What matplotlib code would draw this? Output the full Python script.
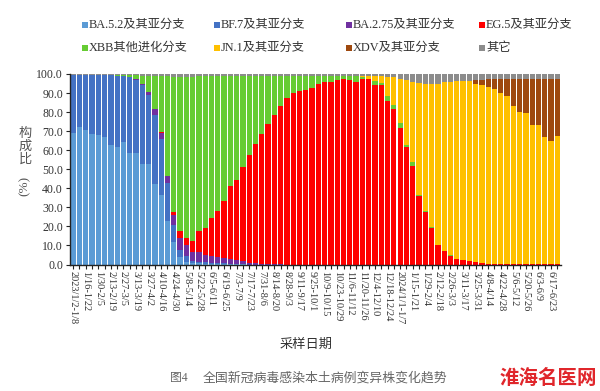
import numpy as np
import matplotlib
matplotlib.use("Agg")
import matplotlib.pyplot as plt
from matplotlib.patches import Rectangle

plt.rcParams['font.family'] = ['Liberation Serif', 'Noto Sans CJK SC', 'DejaVu Sans']

# ---------------- data ----------------
series_names = ["BA.5.2及其亚分支", "BF.7及其亚分支", "BA.2.75及其亚分支", "EG.5及其亚分支",
                "XBB其他进化分支", "JN.1及其亚分支", "XDV及其亚分支", "其它"]
colors = ["#5B9BD5", "#4472C4", "#7030A0", "#FF0000",
          "#66CC33", "#FFC000", "#9E480E", "#8C8C8C"]

ba52 = [69.0, 72.0, 70.5, 68.5, 68.0, 67.0, 62.5, 61.5, 64.5, 58.5,
        58.5, 52.5, 52.5, 42.5, 36.5, 23.0, 12.0, 3.7, 1.5, 0.8,
        0.6, 0.5, 0.4, 0.3, 0.3, 0.2, 0.2, 0.1] + [0] * 50
bf7 = [30.5, 27.5, 29.0, 31.0, 31.5, 32.5, 36.8, 37.5, 34.3, 39.8,
       38.5, 41.8, 36.3, 36.1, 29.3, 19.6, 8.7, 3.7, 3.1, 1.2,
       0.8, 0.6, 0.5, 0.4, 0.3, 0.2, 0.2, 0.1] + [0] * 50
ba275 = [0, 0, 0, 0, 0, 0, 0, 0, 0.2, 0.2,
         0.3, 0.5, 1.7, 3.1, 3.4, 3.6, 5.3, 6.3, 5.6, 4.8,
         5.1, 3.9, 3.7, 3.3, 2.9, 2.5, 2.0, 1.5, 1.0, 0.7,
         0.5, 0.3, 0.2, 0.1] + [0] * 44
eg5 = [0, 0, 0, 0, 0, 0, 0, 0, 0, 0,
       0, 0, 0, 0.1, 0.3, 0.5, 1.7, 3.7, 3.8, 5.5,
       10.9, 14.0, 19.6, 24.2, 29.9, 38.1, 41.8, 49.3, 56.3, 62.6,
       68.2, 73.5, 78.5, 83.0, 87.2, 89.8, 91.0, 91.6, 92.8, 94.9,
       95.6, 95.8, 96.7, 97.5, 96.7, 95.6, 97.2, 97.2, 94.2, 94.2,
       85.8, 81.4, 71.7, 61.5, 51.5, 35.8, 27.5, 19.2, 10.1, 7.0,
       4.7, 3.0, 2.5, 1.8, 1.2, 0.8, 0.5, 0.4, 0.3, 0.3,
       0.2, 0.2, 0.2, 0.1, 0.1, 0.1, 0.1, 0.1]
xbb = [0, 0, 0, 0, 0, 0, 0.2, 0.5, 0.5, 1.0,
       2.0, 4.2, 8.5, 17.0, 29.3, 52.0, 70.8, 81.1, 84.5, 86.2,
       81.3, 79.8, 74.6, 70.8, 65.6, 58.0, 54.8, 48.0, 41.7, 35.7,
       30.3, 25.2, 20.3, 15.9, 11.8, 9.2, 8.0, 7.4, 6.2, 4.1,
       3.4, 3.2, 2.3, 1.5, 2.3, 3.2, 1.3, 0.3, 2.0, 1.2,
       2.5, 2.3, 2.6, 1.4, 2.1, 0.5, 0.4, 0.3, 0.2, 0.2,
       0.1, 0.1, 0.1, 0.1] + [0] * 14
jn1 = [0] * 46 + [0.5, 1.5, 2.8, 3.4,
                  10.2, 14.8, 23.2, 34.1, 42.4, 59.2, 66.6, 75.0, 84.7, 88.8,
                  91.2, 93.4, 93.9, 94.6, 93.8, 93.2, 92.6, 91.6, 89.7, 87.9,
                  82.8, 80.1, 79.2, 73.2, 73.2, 66.7, 64.9, 67.4]
xdv = [0] * 64 + [2.0, 3.0, 4.4, 5.5, 7.5, 9.3, 14.5, 17.2, 18.1, 24.2,
                  24.2, 30.7, 32.5, 30.0]
other = ([0.5] * 10 +
         [0.7, 1.0, 1.0, 1.2, 1.2, 1.3, 1.5, 1.5, 1.5, 1.5,
          1.3, 1.2, 1.2] +
         [1.0] * 22 +
         [1.2, 1.0, 1.0, 1.0, 1.2, 1.5, 1.5, 2.5, 3.0, 4.0,
          4.5, 5.5, 5.5, 5.0, 4.0, 4.0, 3.5, 3.5, 3.5, 3.0, 3.0] +
         [2.5] * 12)

week_labels = ["2023/1/2-1/8", "1/16-1/22", "1/30-2/5", "2/13-2/19", "2/27-3/5",
               "3/13-3/19", "3/27-4/2", "4/10-4/16", "4/24-4/30", "5/8-5/14",
               "5/22-5/28", "6/5-6/11", "6/19-6/25", "7/3-7/9", "7/17-7/23",
               "7/31-8/6", "8/14-8/20", "8/28-9/3", "9/11-9/17", "9/25-10/1",
               "10/9-10/15", "10/23-10/29", "11/6-11/12", "11/20-11/26", "12/4-12/10",
               "12/18-12/24", "2024/1/1-1/7", "1/15-1/21", "1/29-2/4", "2/12-2/18",
               "2/26-3/3", "3/11-3/17", "3/25-3/31", "4/8-4/14", "4/22-4/28",
               "5/6-5/12", "5/20-5/26", "6/3-6/9", "6/17-6/23"]

series = [ba52, bf7, ba275, eg5, xbb, jn1, xdv, other]

# ---------------- figure ----------------
W, H = 600, 391
fig = plt.figure(figsize=(W / 100, H / 100), dpi=100)
ax = fig.add_axes([70 / W, 1 - 264.5 / H, 490.5 / W, 190.5 / H])

n = len(ba52)
x = np.arange(n)
bottom = np.zeros(n)
for vals, c in zip(series, colors):
    v = np.array(vals, dtype=float)
    ax.bar(x, v, bottom=bottom, width=0.84, color=c, linewidth=0)
    bottom += v

ax.set_xlim(-0.5, n - 0.5)
ax.set_ylim(0, 100)
ax.set_yticks(np.arange(0, 101, 10))
ax.set_yticklabels([f"{v:.1f}" for v in np.arange(0, 101, 10)], fontsize=8.5, color="#333333")

ax.set_xticks(np.arange(0, n, 2)[:len(week_labels)])
ax.set_xticklabels(week_labels, rotation=-90, fontsize=7.5, color="#333333",
                   ha="center", va="top")
ax.set_xticks(np.arange(1, n, 2), minor=True)
ax.tick_params(axis="x", which="both", length=3, width=0.8, direction="out",
               color="#222222", pad=2)
ax.tick_params(axis="y", length=3, width=0.8, direction="out", color="#222222", pad=2)

for s in ["top", "right"]:
    ax.spines[s].set_visible(False)
for s in ["left", "bottom"]:
    ax.spines[s].set_color("#222222")
    ax.spines[s].set_linewidth(1.0)

# y label (vertical stacked characters)
fig.text(25 / W, 1 - 147 / H, "构\n成\n比", ha="center", va="center",
         fontsize=9.5, color="#555555", linespacing=1.05)
fig.text(25 / W, 1 - 186 / H, "(%)", ha="center", va="center",
         fontsize=9.5, color="#555555", rotation=90)

# x label and caption
fig.text(306 / W, 1 - 345 / H, "采样日期", ha="center", va="center",
         fontsize=9.5, color="#333333")
fig.text(170 / W, 1 - 378 / H, "图4", ha="left", va="center",
         fontsize=8.5, color="#666666")
fig.text(203 / W, 1 - 378 / H, "全国新冠病毒感染本土病例变异株变化趋势",
         ha="left", va="center", fontsize=9.3, color="#666666")
fig.text(548 / W, 1 - 378 / H, "淮海名医网", ha="center", va="center",
         fontsize=14, color="#E0262B", fontweight="bold", style="italic")

# legend (manual, 2 rows x 4 cols)
leg_x = [85, 217, 349, 482]
leg_y = [25, 48]
for i, (name, c) in enumerate(zip(series_names, colors)):
    r, col = divmod(i, 4)
    px, py = leg_x[col], leg_y[r]
    fig.add_artist(Rectangle(((px - 3) / W, 1 - (py + 3) / H), 6 / W, 6 / H,
                             transform=fig.transFigure, color=c, lw=0))
    fig.text((px + 4) / W, 1 - py / H, name, ha="left", va="center",
             fontsize=8.8, color="#333333")

fig.savefig("out.png", dpi=100)
